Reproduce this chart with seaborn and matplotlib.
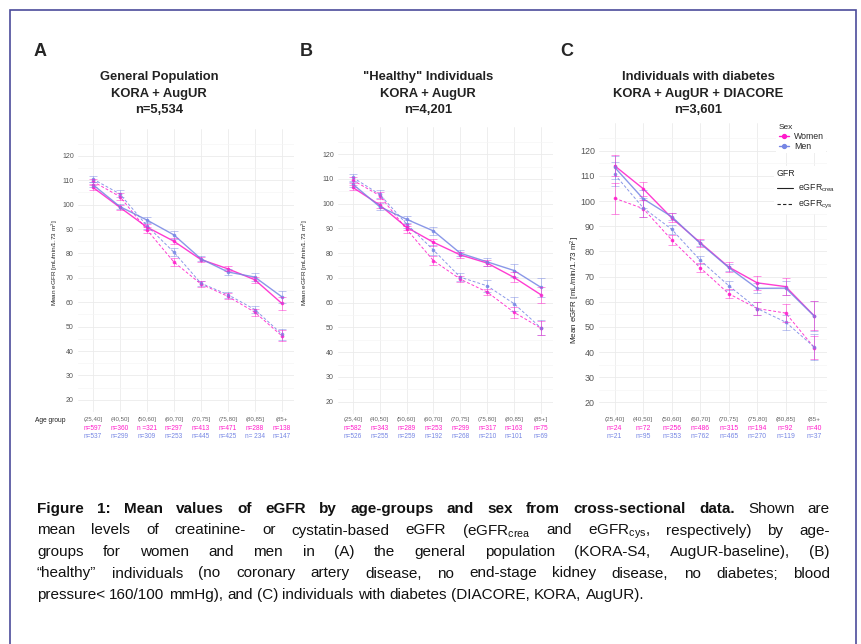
import numpy as np
import pandas as pd
import matplotlib
matplotlib.use("Agg")
import matplotlib.pyplot as plt
import seaborn as sns
from matplotlib.lines import Line2D
from matplotlib.patches import Rectangle
from matplotlib.transforms import blended_transform_factory

# ---- data ----
age_groups = ["(25,40]", "(40,50]", "(50,60]", "(60,70]", "(70,75]", "(75,80]", "(80,85]", "(85+"]
age_groups_b = ["(25,40]", "(40,50]", "(50,60]", "(60,70]", "(70,75]", "(75,80]", "(80,85]", "(85+]"]

# A: general population
a_women_crea = [107.1, 98.9, 90.8, 85.0, 77.5, 73.7, 69.2, 59.5]
a_men_crea = [108.2, 99.2, 93.7, 87.6, 77.8, 72.4, 70.3, 62.2]
a_women_cys = [109.5, 103.3, 89.7, 76.5, 67.5, 62.4, 55.9, 46.2]
a_men_cys = [110.5, 104.4, 91.4, 80.5, 67.8, 63.1, 57.0, 46.9]
a_ci_women_crea = [0.9, 1.0, 1.1, 1.2, 1.0, 1.0, 1.3, 2.5]
a_ci_men_crea = [0.9, 1.1, 1.2, 1.5, 1.0, 1.1, 1.6, 2.6]
a_ci_women_cys = [1.2, 1.3, 1.3, 1.7, 1.2, 1.2, 1.5, 2.3]
a_ci_men_cys = [1.2, 1.4, 1.4, 1.7, 1.1, 1.2, 1.6, 2.2]
a_n_women = ["n=597", "n=360", "n =321", "n=297", "n=413", "n=471", "n=288", "n=138"]
a_n_men = ["n=537", "n=299", "n=309", "n=253", "n=445", "n=425", "n= 234", "n=147"]

# B: "healthy" individuals
b_women_crea = [106.6, 99.5, 90.5, 84.4, 79.3, 76.0, 70.2, 63.2]
b_men_crea = [107.9, 98.8, 93.7, 89.0, 80.0, 76.5, 73.0, 66.2]
b_women_cys = [109.5, 103.3, 89.7, 77.0, 69.5, 64.3, 56.1, 49.7]
b_men_cys = [110.6, 103.8, 91.8, 81.3, 70.3, 66.8, 59.6, 49.8]
b_ci_women_crea = [1.0, 1.1, 1.3, 1.4, 1.1, 1.2, 2.0, 3.2]
b_ci_men_crea = [1.0, 1.3, 1.4, 1.6, 1.3, 1.6, 2.6, 3.8]
b_ci_women_cys = [1.2, 1.4, 1.4, 1.8, 1.3, 1.4, 2.2, 2.8]
b_ci_men_cys = [1.3, 1.6, 1.5, 2.0, 1.5, 2.3, 2.8, 3.0]
b_n_women = ["n=582", "n=343", "n=289", "n=253", "n=299", "n=317", "n=163", "n=75"]
b_n_men = ["n=526", "n=255", "n=259", "n=192", "n=268", "n=210", "n=101", "n=69"]

# C: individuals with diabetes
c_women_crea = [114.0, 104.9, 93.3, 83.5, 73.8, 67.5, 66.0, 54.4]
c_men_crea = [113.4, 100.9, 93.8, 83.2, 73.6, 65.3, 65.4, 54.3]
c_women_cys = [101.1, 97.0, 84.6, 73.5, 63.2, 57.3, 55.5, 41.8]
c_men_cys = [110.6, 97.3, 88.8, 76.5, 66.4, 57.3, 51.9, 42.0]
c_ci_women_crea = [4.2, 2.8, 1.8, 1.6, 1.8, 2.7, 3.5, 5.8]
c_ci_men_crea = [4.5, 3.5, 1.5, 1.2, 1.5, 2.0, 2.8, 5.8]
c_ci_women_cys = [6.2, 3.5, 2.1, 1.7, 1.9, 2.6, 3.5, 4.5]
c_ci_men_cys = [4.8, 3.8, 1.8, 1.5, 1.8, 2.5, 3.0, 5.0]
c_n_women = ["n=24", "n=72", "n=256", "n=486", "n=315", "n=194", "n=92", "n=40"]
c_n_men = ["n=21", "n=95", "n=353", "n=762", "n=465", "n=270", "n=119", "n=37"]

W, H = 862, 644
women_col = "#FF1ACB"
men_col = "#7686E4"
sex_colors = {"Women": women_col, "Men": men_col}

sns.set_theme(style="whitegrid")
cap_font = "Liberation Sans"
plt.rcParams["font.family"] = ["Liberation Sans", "DejaVu Sans"]
plt.rcParams["mathtext.fontset"] = "custom"
plt.rcParams["mathtext.rm"] = "Liberation Sans"
plt.rcParams["mathtext.it"] = "Liberation Sans:italic"
plt.rcParams["mathtext.bf"] = "Liberation Sans:bold"

fig = plt.figure(figsize=(W / 100, H / 100), dpi=100)
fig.patch.set_facecolor("white")


def px_box(left, top, right, bottom):
    return [left / W, 1 - bottom / H, (right - left) / W, (bottom - top) / H]


def make_df(wc, mc, wy, my, cwc, cmc, cwy, cmy):
    idx = np.arange(len(age_groups))
    parts = []
    for sex, gfr, vals, ci in [("Women", "crea", wc, cwc), ("Men", "crea", mc, cmc),
                               ("Women", "cys", wy, cwy), ("Men", "cys", my, cmy)]:
        parts.append(pd.DataFrame({"age": idx, "egfr": vals, "ci": ci, "Sex": sex, "GFR": gfr}))
    return pd.concat(parts, ignore_index=True)


def draw_panel(ax, df, labels, n_w, n_m, tick_size, lab_size):
    sns.lineplot(data=df, x="age", y="egfr", hue="Sex", style="GFR",
                 hue_order=["Women", "Men"], style_order=["crea", "cys"],
                 palette=sex_colors, dashes={"crea": "", "cys": (3, 2)},
                 markers={"crea": "o", "cys": "o"}, markersize=2.6, markeredgewidth=0,
                 linewidth=1.0, alpha=0.85, sort=False, legend=False, ax=ax)
    for line in ax.lines:
        if line.get_linestyle() != "-":
            line.set_linewidth(0.7)
    for (sex, gfr), g in df.groupby(["Sex", "GFR"]):
        ax.errorbar(g["age"], g["egfr"], yerr=g["ci"], fmt="none", ecolor=sex_colors[sex],
                    elinewidth=0.6, capsize=2.6, capthick=0.6, alpha=0.55)
    ax.set_xlim(-0.55, 7.45)
    ax.set_ylim(15, 131)
    ax.set_xticks(np.arange(len(labels)))
    ax.set_xticklabels([])
    ax.set_yticks(np.arange(20, 121, 10))
    ax.set_yticks(np.arange(15, 131, 10), minor=True)
    ax.grid(which="major", color="#EBEBEB", linewidth=0.6)
    ax.grid(which="minor", axis="y", color="#F5F5F5", linewidth=0.5)
    ax.tick_params(axis="both", which="both", length=0, labelsize=tick_size,
                   labelcolor="#555555", pad=3)
    ax.set_xlabel("")
    ax.set_ylabel("")
    sns.despine(ax=ax, left=True, bottom=True)
    trans = blended_transform_factory(ax.transData, fig.transFigure)
    for i in range(len(labels)):
        ax.text(i, 1 - 419 / H, labels[i], transform=trans, ha="center", va="center",
                size=lab_size, color="#666666")
        ax.text(i, 1 - 428 / H, n_w[i], transform=trans, ha="center", va="center",
                size=lab_size + 0.3, color=women_col)
        ax.text(i, 1 - 436 / H, n_m[i], transform=trans, ha="center", va="center",
                size=lab_size + 0.3, color=men_col)


df_a = make_df(a_women_crea, a_men_crea, a_women_cys, a_men_cys,
               a_ci_women_crea, a_ci_men_crea, a_ci_women_cys, a_ci_men_cys)
df_b = make_df(b_women_crea, b_men_crea, b_women_cys, b_men_cys,
               b_ci_women_crea, b_ci_men_crea, b_ci_women_cys, b_ci_men_cys)
df_c = make_df(c_women_crea, c_men_crea, c_women_cys, c_men_cys,
               c_ci_women_crea, c_ci_men_crea, c_ci_women_cys, c_ci_men_cys)

ax_a = fig.add_axes(px_box(78, 129, 294, 412))
ax_b = fig.add_axes(px_box(338, 127, 553, 414))
ax_c = fig.add_axes(px_box(599, 123, 827, 415))

draw_panel(ax_a, df_a, age_groups, a_n_women, a_n_men, 5.0, 4.4)
draw_panel(ax_b, df_b, age_groups_b, b_n_women, b_n_men, 5.0, 4.4)
draw_panel(ax_c, df_c, age_groups, c_n_women, c_n_men, 6.4, 4.6)

fig.text(50 / W, 1 - 420 / H, "Age group", ha="center", va="center", size=4.8, color="#222222")

# y labels
ylab = "Mean eGFR [mL/min/1.73 m$^2$]"
for x, y, s in [(55, 263, 4.6), (305, 263, 4.6), (575, 290, 5.8)]:
    fig.text(x / W, 1 - y / H, ylab, rotation=90, ha="center", va="center", size=s,
             color="#222222")

# panel letters and titles
for letter, x in [("A", 40), ("B", 306), ("C", 567)]:
    fig.text(x / W, 1 - 52 / H, letter, ha="center", va="center", size=13, weight="bold")

titles = [
    (159, ["General Population", "KORA + AugUR", "n=5,534"]),
    (428, ['"Healthy" Individuals', "KORA + AugUR", "n=4,201"]),
    (698, ["Individuals with diabetes", "KORA + AugUR + DIACORE", "n=3,601"]),
]
for x, lines in titles:
    for line, y in zip(lines, [77, 94, 110]):
        fig.text(x / W, 1 - y / H, line, ha="center", va="center", size=9.4, weight="bold",
                 color="#222222")

# legends in panel C
sex_handles = [Line2D([], [], color=women_col, marker="o", ms=2.8, lw=1.0),
               Line2D([], [], color=men_col, marker="o", ms=2.8, lw=1.0)]
leg1 = ax_c.legend(sex_handles, ["Women", "Men"], title="Sex", loc="upper left",
                   bbox_to_anchor=(772 / W, 1 - 117 / H), bbox_transform=fig.transFigure,
                   fontsize=6.3, title_fontsize=6.0, frameon=True, facecolor="white",
                   edgecolor="none", framealpha=1, handlelength=1.1, handletextpad=0.6,
                   labelspacing=0.1, alignment="left", borderpad=0.3)
ax_c.add_artist(leg1)
gfr_handles = [Line2D([], [], color="#222222", lw=0.8, ls="-"),
               Line2D([], [], color="#222222", lw=0.8, ls=(0, (3, 2)))]
leg2 = ax_c.legend(gfr_handles, ["eGFR$_{\\mathrm{crea}}$", "eGFR$_{\\mathrm{cys}}$"], title="GFR",
                   loc="upper left", bbox_to_anchor=(770 / W, 1 - 162 / H),
                   bbox_transform=fig.transFigure, fontsize=6.3, title_fontsize=6.3,
                   frameon=True, facecolor="white", edgecolor="none", framealpha=1,
                   handlelength=1.8, handletextpad=0.6, labelspacing=0.55, alignment="left",
                   borderpad=0.3)

# caption, justified
caption = [
    [("Figure 1: Mean values of eGFR by age-groups and sex from cross-sectional data.", "bold"),
     ("Shown are", "normal")],
    [("mean levels of creatinine- or cystatin-based eGFR (eGFR$_{\\mathrm{crea}}$ and "
      "eGFR$_{\\mathrm{cys}}$, respectively) by age-", "normal")],
    [("groups for women and men in (A) the general population (KORA-S4, AugUR-baseline), (B)",
      "normal")],
    [("\u201chealthy\u201d individuals (no coronary artery disease, no end-stage kidney disease, "
      "no diabetes; blood", "normal")],
    [("pressure< 160/100 mmHg), and (C) individuals with diabetes (DIACORE, KORA, AugUR).",
      "normal")],
]
baselines = [513, 534.5, 556, 577.5, 599]
x_left, x_right = 37, 830
renderer = fig.canvas.get_renderer()


def word_width(s, wgt, size):
    t = fig.text(0, 0, s, size=size, weight=wgt, family=[cap_font, "DejaVu Sans"])
    w = t.get_window_extent(renderer).width
    t.remove()
    return w


cap_size = 11.0
natural = []
for line in caption:
    words = [(w, wgt) for seg, wgt in line for w in seg.split(" ")]
    total = sum(word_width(w, wgt, cap_size) for w, wgt in words)
    natural.append(total + 2.5 * (len(words) - 1))
cap_size = min(11.0, cap_size * (x_right - x_left) / max(natural))

space = word_width("x x", "normal", cap_size) - word_width("xx", "normal", cap_size)
for k, line in enumerate(caption):
    words = [(w, wgt) for seg, wgt in line for w in seg.split(" ")]
    widths = [word_width(w, wgt, cap_size) for w, wgt in words]
    if k < len(caption) - 1:
        gap = (x_right - x_left - sum(widths)) / (len(words) - 1)
    else:
        gap = space
    x = x_left
    for (w, wgt), wd in zip(words, widths):
        fig.text(x / W, 1 - baselines[k] / H, w, size=cap_size, weight=wgt, va="baseline",
                 ha="left", family=[cap_font, "DejaVu Sans"], color="#111111")
        x += wd + gap

# outer frame
fig.patches.append(Rectangle((10 / W, -0.02), (856 - 10) / W, 1.02 - 10 / H,
                             transform=fig.transFigure, fill=False, edgecolor="#4B4B9B",
                             linewidth=1.2))

fig.savefig("out.png", dpi=100, facecolor="white")
